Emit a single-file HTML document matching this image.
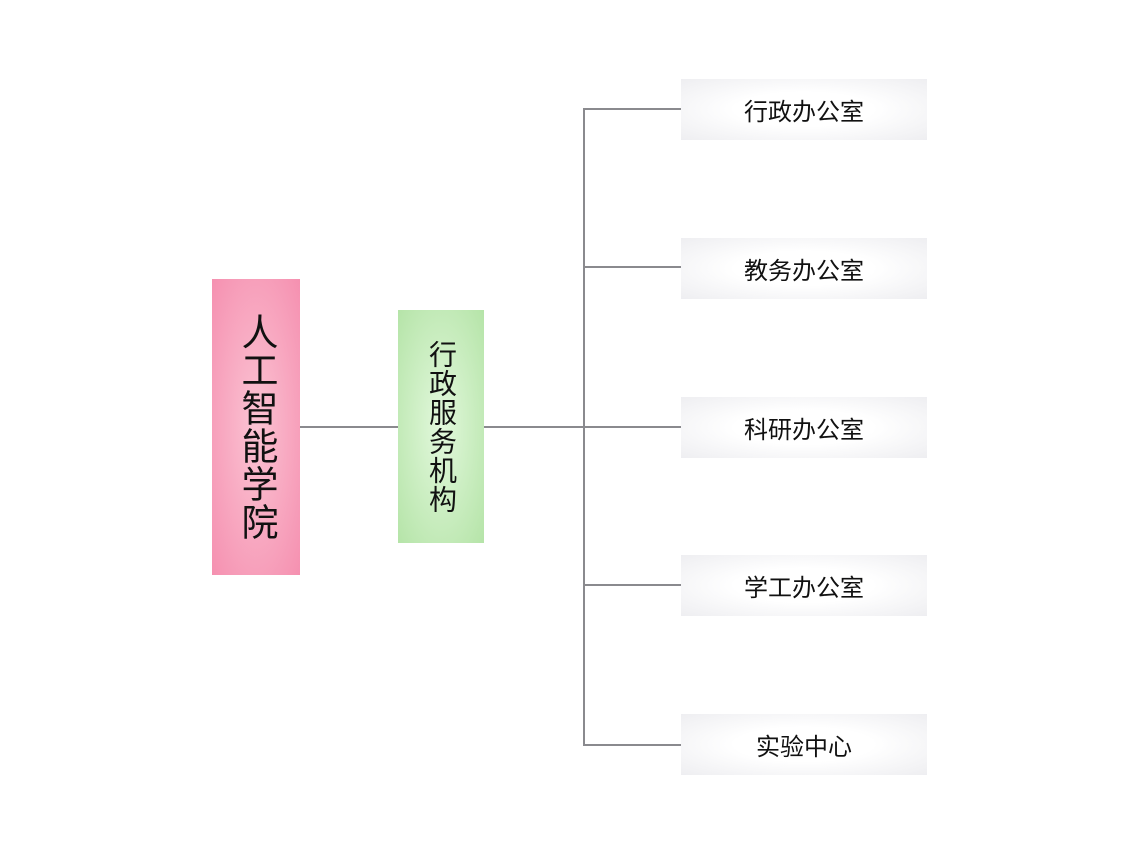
<!DOCTYPE html>
<html><head><meta charset="utf-8"><style>
body{margin:0;width:1140px;height:855px;background:#fff;position:relative;overflow:hidden;font-family:"Liberation Sans","Noto Sans CJK SC",sans-serif;color:#111}
.b{position:absolute;box-sizing:border-box;display:flex;align-items:center;justify-content:center}
.v{writing-mode:vertical-rl;text-orientation:upright}
.l{position:absolute;background:#8a8a8e}
.r{left:681px;width:246px;height:61px;background:radial-gradient(ellipse at center,#fff 40%,#eeeef1 100%);font-size:24px}
</style></head><body>
<div class="l" style="left:300px;top:426px;width:98px;height:2px"></div>
<div class="l" style="left:484px;top:426px;width:197px;height:2px"></div>
<div class="l" style="left:583px;top:108px;width:2px;height:638px"></div>
<div class="l" style="left:583px;top:108px;width:98px;height:2px"></div>
<div class="l" style="left:583px;top:266px;width:98px;height:2px"></div>
<div class="l" style="left:583px;top:584px;width:98px;height:2px"></div>
<div class="l" style="left:583px;top:744px;width:98px;height:2px"></div>
<div class="b v" style="left:212px;top:279px;width:88px;height:296px;background:radial-gradient(ellipse at center,#fbc3d3 0%,#f590b0 100%);font-size:37px;letter-spacing:1px">人工智能学院</div>
<div class="b v" style="left:398px;top:310px;width:86px;height:233px;background:radial-gradient(ellipse at center,#e2f8dc 0%,#b5e4a8 100%);font-size:28px;letter-spacing:1px">行政服务机构</div>
<div class="b r" style="top:79px">行政办公室</div>
<div class="b r" style="top:238px">教务办公室</div>
<div class="b r" style="top:397px">科研办公室</div>
<div class="b r" style="top:555px">学工办公室</div>
<div class="b r" style="top:714px">实验中心</div>
</body></html>
